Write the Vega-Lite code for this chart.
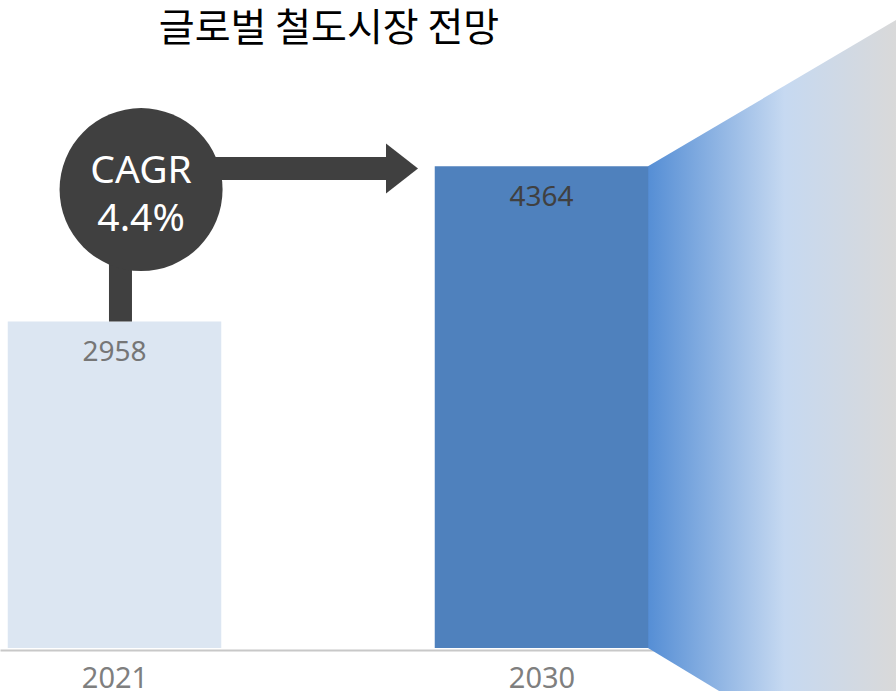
{
  "$schema": "https://vega.github.io/schema/vega-lite/v6.json",
  "width": 896,
  "height": 588,
  "autosize": {"type": "none"},
  "padding": {"left": 0, "top": 60, "right": 0, "bottom": 43},
  "background": "white",
  "config": {"view": {"stroke": null}},
  "title": {
    "text": "글로벌 철도시장 전망",
    "font": "Noto Sans CJK KR",
    "fontSize": 39,
    "fontWeight": "normal",
    "color": "#000000",
    "anchor": "middle",
    "frame": "group",
    "dx": -119,
    "baseline": "middle",
    "offset": -48
  },
  "datasets": {
    "market": [
      {"year": 2021, "value": 2958},
      {"year": 2030, "value": 4364}
    ],
    "fan": [
      {"x": 2032.245, "top": 4364, "bottom": 0},
      {"x": 2037.472, "top": 5689, "bottom": -1359}
    ],
    "stem": [{"x": 2021.126, "from": 4153, "to": 2958}],
    "shaft": [{"from": 2021.56, "to": 2026.807, "y": 4344}],
    "head": [{"x": 2027.06, "y": 4344}],
    "bubble": [{"x": 2021.56, "y": 4153}],
    "cagr": [
      {"x": 2021.56, "y": 4321, "t": "CAGR\n4.4%"}
    ]
  },
  "layer": [
    {
      "data": {"name": "fan"},
      "mark": {
        "type": "area",
        "orient": "vertical",
        "color": {
          "gradient": "linear",
          "x1": 0, "y1": 0, "x2": 1, "y2": 0,
          "stops": [
            {"offset": 0, "color": "#558ED5"},
            {"offset": 0.55, "color": "#C6D9F1"},
            {"offset": 1, "color": "#D9D9D9"}
          ]
        }
      },
      "encoding": {
        "x": {"field": "x", "type": "quantitative", "scale": {"domain": [2018.5866, 2037.4722], "nice": false, "zero": false, "padding": 0}},
        "y": {"field": "top", "type": "quantitative", "scale": {"domain": [0, 5327], "nice": false, "zero": false}, "axis": null},
        "y2": {"field": "bottom"}
      }
    },
    {
      "data": {"name": "market"},
      "mark": {"type": "bar", "orient": "vertical", "width": 213.5},
      "encoding": {
        "x": {
          "field": "year", "type": "quantitative",
          "scale": {"domain": [2018.5866, 2037.4722], "nice": false, "zero": false, "padding": 0},
          "axis": {
            "values": [2021, 2030], "format": "d", "title": null, "grid": false,
            "ticks": false, "tickSize": 0, "domain": true, "domainColor": "#c8c8c8", "domainWidth": 2,
            "offset": 2, "labelPadding": 28, "labelBaseline": "middle",
            "labelFont": "Noto Sans", "labelFontSize": 29, "labelColor": "#7f7f7f", "zindex": 0
          }
        },
        "y": {"field": "value", "type": "quantitative", "scale": {"domain": [0, 5327], "nice": false, "zero": false}, "axis": null},
        "color": {"condition": {"test": "datum.year === 2030", "value": "#4F81BD"}, "value": "#DCE6F2"}
      }
    },
    {
      "data": {"name": "market"},
      "mark": {"type": "text", "dy": 32, "baseline": "middle", "align": "center", "font": "Noto Sans", "fontSize": 28},
      "encoding": {
        "x": {"field": "year", "type": "quantitative"},
        "y": {"field": "value", "type": "quantitative"},
        "text": {"field": "value", "type": "quantitative", "format": "d"},
        "color": {"condition": {"test": "datum.year === 2030", "value": "#404040"}, "value": "#767676"}
      }
    },
    {
      "data": {"name": "stem"},
      "mark": {"type": "rule", "strokeWidth": 23, "strokeCap": "butt", "color": "#404040"},
      "encoding": {
        "x": {"field": "x", "type": "quantitative"},
        "y": {"field": "from", "type": "quantitative"},
        "y2": {"field": "to"}
      }
    },
    {
      "data": {"name": "shaft"},
      "mark": {"type": "rule", "strokeWidth": 23, "strokeCap": "butt", "color": "#404040"},
      "encoding": {
        "x": {"field": "from", "type": "quantitative"},
        "x2": {"field": "to"},
        "y": {"field": "y", "type": "quantitative"}
      }
    },
    {
      "data": {"name": "head"},
      "mark": {"type": "point", "shape": "M-0.64,-1L0.64,0L-0.64,1Z", "size": 2500, "filled": true, "opacity": 1, "color": "#404040", "strokeWidth": 0},
      "encoding": {
        "x": {"field": "x", "type": "quantitative"},
        "y": {"field": "y", "type": "quantitative"}
      }
    },
    {
      "data": {"name": "bubble"},
      "mark": {"type": "point", "shape": "circle", "size": 26569, "filled": true, "opacity": 1, "color": "#404040", "strokeWidth": 0},
      "encoding": {
        "x": {"field": "x", "type": "quantitative"},
        "y": {"field": "y", "type": "quantitative"}
      }
    },
    {
      "data": {"name": "cagr"},
      "mark": {"type": "text", "baseline": "middle", "align": "center", "font": "Noto Sans", "fontSize": 39, "lineHeight": 47.5, "lineBreak": "\n", "color": "#FFFFFF"},
      "encoding": {
        "x": {"field": "x", "type": "quantitative"},
        "y": {"field": "y", "type": "quantitative"},
        "text": {"field": "t", "type": "nominal"}
      }
    }
  ]
}
